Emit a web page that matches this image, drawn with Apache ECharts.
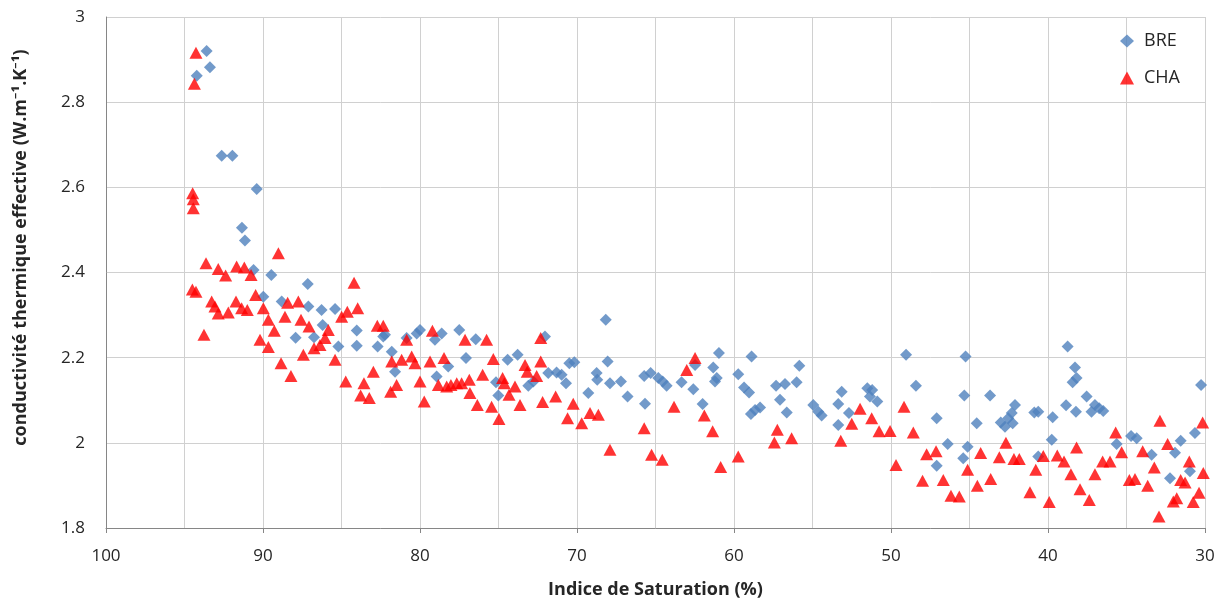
<!DOCTYPE html>
<html><head><meta charset="utf-8">
<script src="https://cdn.jsdelivr.net/npm/echarts@6/dist/echarts.min.js"></script>
<style>html,body{margin:0;padding:0;background:#fff}#c{width:1227px;height:604px}</style>
</head><body><div id="c"></div>
<script>
const seriesNames = ['BRE', 'CHA'];
const xTicks = [100, 90, 80, 70, 60, 50, 40, 30];
const yTicks = [1.8, 2, 2.2, 2.4, 2.6, 2.8, 3];

const breX = [93.59,93.38,94.22,92.63,91.95,90.4,91.34,91.15,90.6,89.47,87.15,89.98,88.81,87.11,86.27,85.41,86.2,87.92,86.75,85.2,84.03,84.03,82.7,82.34,82.23,81.8,81.59,80.85,80.21,80.0,79.05,78.62,77.5,78.2,78.94,77.07,76.45,75.16,75.01,74.42,73.78,73.1,72.78,72.04,71.83,71.3,70.98,70.7,70.49,70.17,69.28,68.75,68.71,68.17,68.05,67.9,67.2,66.78,65.72,65.67,65.31,64.82,64.54,64.29,63.34,62.59,62.48,62.0,61.32,61.1,60.96,61.21,59.73,59.36,59.04,58.88,58.92,58.66,58.34,57.32,57.07,56.75,56.64,56.01,55.84,54.95,54.63,54.42,53.36,53.14,53.36,52.68,51.51,51.2,51.34,50.87,49.04,48.41,47.09,46.39,47.09,45.4,45.25,45.33,45.12,44.54,43.69,43.01,42.74,42.53,42.31,42.1,42.25,40.87,40.62,39.7,39.76,40.62,38.75,38.28,38.18,38.43,38.85,38.22,37.54,37.23,37.01,36.74,36.48,35.63,34.71,34.35,33.4,32.23,31.91,31.55,30.96,30.64,30.25];
const breY = [2.92,2.882,2.862,2.674,2.674,2.596,2.505,2.475,2.406,2.394,2.373,2.343,2.332,2.32,2.312,2.314,2.277,2.247,2.248,2.226,2.264,2.228,2.226,2.25,2.254,2.214,2.167,2.246,2.257,2.265,2.242,2.257,2.265,2.179,2.156,2.199,2.243,2.142,2.111,2.195,2.207,2.134,2.144,2.25,2.164,2.165,2.16,2.14,2.187,2.189,2.117,2.164,2.148,2.289,2.191,2.14,2.144,2.109,2.157,2.092,2.164,2.152,2.144,2.134,2.142,2.126,2.183,2.091,2.177,2.152,2.211,2.144,2.161,2.13,2.118,2.203,2.068,2.077,2.083,2.134,2.101,2.138,2.071,2.142,2.181,2.089,2.073,2.064,2.091,2.12,2.042,2.07,2.128,2.124,2.109,2.097,2.207,2.134,2.058,1.997,1.946,1.964,2.203,2.111,1.991,2.046,2.111,2.048,2.038,2.058,2.07,2.089,2.046,2.071,2.073,2.06,2.007,1.968,2.226,2.177,2.152,2.142,2.088,2.073,2.109,2.073,2.089,2.081,2.075,1.997,2.016,2.011,1.972,1.917,1.977,2.005,1.933,2.023,2.136];

const chaX = [94.27,94.37,94.48,94.44,94.44,89.02,93.63,92.85,92.38,91.68,91.19,90.76,84.2,94.27,94.5,93.27,93.06,92.85,92.21,91.72,91.36,91.0,90.47,89.98,89.66,89.28,90.19,89.66,93.76,88.6,88.43,87.75,87.58,87.07,88.85,88.22,87.43,86.75,86.37,86.05,85.84,85.41,84.99,84.63,83.97,84.73,83.57,83.78,83.23,82.97,82.72,82.34,81.8,81.87,81.49,81.17,80.85,80.53,80.32,80.0,79.73,79.36,79.21,78.83,78.47,78.3,78.03,77.66,77.35,77.13,76.82,76.86,76.35,76.01,75.76,75.44,75.33,74.97,74.74,74.63,74.33,73.95,73.63,73.31,73.17,72.57,72.31,72.31,72.19,71.36,70.6,70.24,69.7,69.17,68.64,67.9,65.72,65.25,64.57,63.82,63.01,62.48,61.89,61.36,60.85,59.73,57.43,57.24,56.33,53.2,52.5,51.97,51.23,50.76,50.06,49.68,49.17,48.58,47.99,47.73,47.13,46.67,46.18,45.65,45.12,44.5,44.29,43.65,43.1,42.68,42.17,41.83,41.15,40.78,40.3,39.92,39.41,38.98,38.54,38.18,37.96,37.37,37.01,36.52,36.05,35.69,35.31,34.82,34.46,33.97,33.65,33.23,32.93,32.87,32.38,32.02,31.8,31.55,31.27,31.0,30.75,30.38,30.11,30.15];
const chaY = [2.916,2.843,2.586,2.572,2.551,2.445,2.422,2.408,2.393,2.414,2.412,2.394,2.376,2.355,2.36,2.332,2.32,2.304,2.306,2.332,2.316,2.312,2.347,2.316,2.289,2.263,2.242,2.225,2.254,2.296,2.329,2.332,2.289,2.273,2.187,2.157,2.207,2.222,2.23,2.246,2.265,2.195,2.296,2.308,2.316,2.144,2.14,2.111,2.105,2.167,2.275,2.275,2.191,2.12,2.136,2.195,2.242,2.203,2.187,2.144,2.097,2.191,2.263,2.136,2.199,2.132,2.136,2.14,2.14,2.242,2.117,2.148,2.089,2.16,2.242,2.085,2.197,2.056,2.152,2.14,2.113,2.132,2.089,2.183,2.167,2.157,2.246,2.191,2.096,2.109,2.058,2.092,2.046,2.07,2.066,1.984,2.034,1.972,1.96,2.085,2.171,2.199,2.064,2.027,1.943,1.968,2.001,2.031,2.011,2.005,2.045,2.08,2.058,2.027,2.028,1.948,2.085,2.024,1.911,1.973,1.98,1.913,1.876,1.874,1.937,1.899,1.976,1.915,1.966,2.0,1.962,1.962,1.884,1.937,1.969,1.861,1.97,1.956,1.926,1.989,1.891,1.866,1.926,1.956,1.956,2.024,1.978,1.913,1.915,1.98,1.899,1.942,1.827,2.052,1.997,1.862,1.87,1.913,1.907,1.956,1.861,1.883,1.929,2.048];

const zip = (xs, ys) => xs.map((x, i) => [x, ys[i]]);
const FONT = '"Open Sans", "Noto Sans", sans-serif';

const chart = echarts.init(document.getElementById('c'), null, {renderer: 'canvas'});
chart.setOption({
  animation: false,
  backgroundColor: '#fff',
  grid: {left: 106, right: 22, top: 17, bottom: 76, containLabel: false},
  legend: {
    orient: 'vertical', right: 42, top: 27, itemGap: 19,
    itemWidth: 14, itemHeight: 13,
    textStyle: {fontFamily: FONT, fontSize: 18, color: '#262626', padding: [0, 0, 0, 5]},
    data: [{name: seriesNames[0], icon: 'diamond'}, {name: seriesNames[1], icon: 'triangle'}]
  },
  xAxis: {
    type: 'value', inverse: true, min: 30, max: 100, interval: 10,
    name: 'Indice de Saturation (%)', nameLocation: 'middle', nameGap: 53,
    nameTextStyle: {fontFamily: FONT, fontSize: 18, fontWeight: 'bold', color: '#262626'},
    axisLine: {show: true, lineStyle: {color: '#868686'}},
    axisTick: {show: true, length: 5, lineStyle: {color: '#868686'}},
    axisLabel: {fontFamily: FONT, fontSize: 17, color: '#262626', margin: 20,
      formatter: v => xTicks.includes(v) ? String(v) : ''},
    splitLine: {show: true, lineStyle: {color: '#d0d0d0'}},
    minorTick: {show: false, splitNumber: 2},
    minorSplitLine: {show: true, lineStyle: {color: '#d0d0d0'}}
  },
  yAxis: {
    type: 'value', min: 1.8, max: 3, interval: 0.2,
    name: 'conductivité thermique effective (W.m⁻¹.K⁻¹)', nameLocation: 'middle', nameGap: 76,
    nameTextStyle: {fontFamily: FONT, fontSize: 18, fontWeight: 'bold', color: '#262626', padding: [0, 0, 0, 50]},
    axisLine: {show: true, lineStyle: {color: '#868686'}},
    axisTick: {show: false},
    axisLabel: {fontFamily: FONT, fontSize: 17, color: '#262626', margin: 21,
      formatter: v => { const t = yTicks.find(k => Math.abs(k - v) < 1e-6); return t === undefined ? '' : String(t); }},
    splitLine: {show: true, lineStyle: {color: '#d0d0d0'}}
  },
  series: [
    {name: seriesNames[0], type: 'scatter', symbol: 'diamond', symbolSize: [12, 12],
     itemStyle: {color: '#4F81BD'}, data: zip(breX, breY), z: 2},
    {name: seriesNames[1], type: 'scatter', symbol: 'triangle', symbolSize: [13, 12],
     itemStyle: {color: '#FF0000'}, data: zip(chaX, chaY), z: 3}
  ]
});
</script>
</body></html>
